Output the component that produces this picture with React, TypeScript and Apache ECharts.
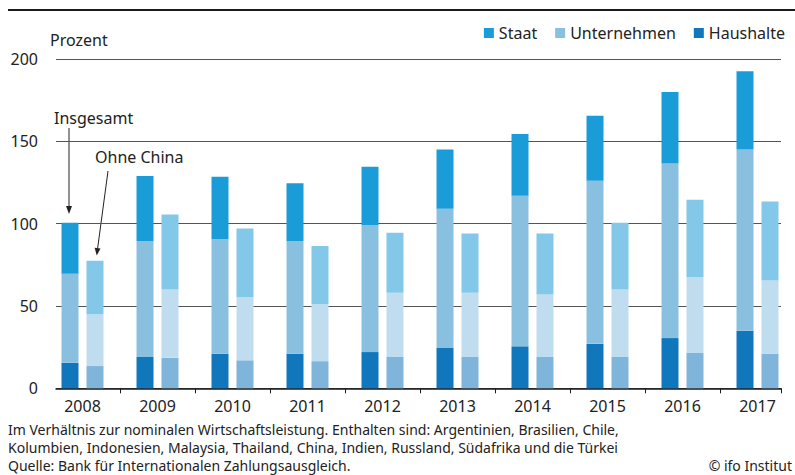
import React, { useEffect, useRef } from "react";
import * as echarts from "echarts";

// ---------- data ----------
const years = ["2008", "2009", "2010", "2011", "2012", "2013", "2014", "2015", "2016", "2017"];

// Insgesamt (all countries), Prozent des BIP
const haushalte = [15.5, 19, 21, 21, 22, 24.5, 25.5, 27, 30.5, 35];
const unternehmen = [54, 70.5, 69.5, 68.5, 77, 84.5, 91.5, 99, 106, 110];
const staat = [31, 39.5, 38, 35, 35.5, 36, 37.5, 39.5, 43.5, 47.5];

// Ohne China
const haushalteOhneChina = [13.5, 18.5, 17, 16.5, 19, 19, 19, 19, 21.5, 21];
const unternehmenOhneChina = [31.5, 41.5, 38.5, 34.5, 39, 39, 38, 41, 46, 44.5];
const staatOhneChina = [32.5, 45.5, 41.5, 35.5, 36.5, 36, 37, 40.5, 47, 48];

const yMin = 0;
const yMax = 200;
const yInterval = 50;

const legendNames = ["Staat", "Unternehmen", "Haushalte"];
const unitLabel = "Prozent";
const labelTotal = "Insgesamt";
const labelExChina = "Ohne China";
const footerLines = [
  "Im Verhältnis zur nominalen Wirtschaftsleistung. Enthalten sind: Argentinien, Brasilien, Chile,",
  "Kolumbien, Indonesien, Malaysia, Thailand, China, Indien, Russland, Südafrika und die Türkei",
  "Quelle: Bank für Internationalen Zahlungsausgleich.",
];
const copyright = "© ifo Institut";

// ---------- styles ----------
const W = 795;
const H = 475;
const FONT = '"Noto Sans", "Open Sans", sans-serif';
const TEXT = "#222222";
const colors = {
  staat: "#1a9cd8",
  unternehmen: "#8ac0df",
  haushalte: "#1077bd",
  staatO: "#83c8e9",
  unternehmenO: "#c0ddef",
  haushalteO: "#7fb4db",
};

// layout
const bandLeft = 45; // category band area
const bandRight = 0;
const plotLeft = 56; // visible axis / grid lines
const plotRight = 14;
const plotTop = 59;
const plotBottom = 86.7;

export default function App() {
  const ref = useRef<HTMLDivElement>(null);

  useEffect(() => {
    if (!ref.current) return;
    const chart = echarts.init(ref.current, undefined, { renderer: "svg" });

    const band = (W - bandLeft - bandRight) / years.length;
    const xMin = -0.5 + (plotLeft - bandLeft) / band;
    const xMax = years.length - 0.5 - (plotRight - bandRight) / band;
    const tickVals = years.slice(1).map((_, i) => i + 0.5).concat([xMax]);

    const barCommon = {
      type: "bar" as const,
      xAxisIndex: 0,
      yAxisIndex: 0,
      barWidth: 17,
      barGap: "47%",
      emphasis: { disabled: true },
    };

    const textStyle = (size: number) => ({ font: `${size}px ${FONT}`, fill: TEXT });

    chart.setOption({
      animation: false,
      backgroundColor: "#ffffff",
      textStyle: { fontFamily: FONT },
      grid: [
        { left: bandLeft, right: bandRight, top: plotTop, bottom: plotBottom },
        { left: plotLeft, right: plotRight, top: plotTop, bottom: plotBottom },
      ],
      legend: {
        data: legendNames,
        right: 10,
        top: 25,
        padding: 0,
        icon: "rect",
        itemWidth: 10,
        itemHeight: 10,
        itemGap: 18,
        selectedMode: false,
        textStyle: { fontSize: 16, color: TEXT, fontFamily: FONT },
      },
      xAxis: [
        {
          type: "category",
          gridIndex: 0,
          data: years,
          axisLine: { show: false },
          axisTick: { show: false },
          splitLine: { show: false },
          axisLabel: { fontSize: 16, color: TEXT, margin: 10, fontFamily: FONT },
        },
        {
          type: "value",
          gridIndex: 1,
          min: xMin,
          max: xMax,
          axisLine: { show: true, onZero: true, lineStyle: { color: "#1a1a1a", width: 1.5 } },
          axisTick: {
            show: true,
            length: 5,
            customValues: tickVals,
            lineStyle: { color: "#1a1a1a", width: 1 },
          },
          axisLabel: { show: false },
          splitLine: { show: false },
        },
      ],
      yAxis: [
        { type: "value", gridIndex: 0, min: yMin, max: yMax, show: false },
        {
          type: "value",
          gridIndex: 1,
          min: yMin,
          max: yMax,
          interval: yInterval,
          axisLine: { show: false },
          axisTick: { show: false },
          axisLabel: { fontSize: 16, color: TEXT, margin: 18, fontFamily: FONT },
          splitLine: { lineStyle: { color: "#555555", width: 1 } },
        },
      ],
      series: [
        { ...barCommon, name: "Haushalte", stack: "gesamt", data: haushalte, itemStyle: { color: colors.haushalte } },
        { ...barCommon, name: "Unternehmen", stack: "gesamt", data: unternehmen, itemStyle: { color: colors.unternehmen } },
        { ...barCommon, name: "Staat", stack: "gesamt", data: staat, itemStyle: { color: colors.staat } },
        { ...barCommon, name: "Haushalte (ohne China)", stack: "ohneChina", data: haushalteOhneChina, itemStyle: { color: colors.haushalteO } },
        { ...barCommon, name: "Unternehmen (ohne China)", stack: "ohneChina", data: unternehmenOhneChina, itemStyle: { color: colors.unternehmenO } },
        { ...barCommon, name: "Staat (ohne China)", stack: "ohneChina", data: staatOhneChina, itemStyle: { color: colors.staatO } },
      ],
      graphic: [
        { type: "line", shape: { x1: 8, y1: 10, x2: 795, y2: 10 }, style: { stroke: "#1a1a1a", lineWidth: 2 } },
        { type: "text", x: 50, y: 40, style: { text: unitLabel, ...textStyle(16), textVerticalAlign: "middle" } },
        { type: "text", x: 54, y: 118, style: { text: labelTotal, ...textStyle(16), textVerticalAlign: "middle" } },
        { type: "text", x: 95, y: 157, style: { text: labelExChina, ...textStyle(16), textVerticalAlign: "middle" } },
        // arrow to "Insgesamt" bar
        { type: "line", shape: { x1: 69, y1: 128, x2: 69, y2: 207 }, style: { stroke: "#222", lineWidth: 1 } },
        { type: "polygon", shape: { points: [[66, 206], [72, 206], [69, 214]] }, style: { fill: "#222" } },
        // arrow to "Ohne China" bar
        { type: "line", shape: { x1: 108, y1: 171, x2: 97.6, y2: 248.5 }, style: { stroke: "#222", lineWidth: 1 } },
        { type: "polygon", shape: { points: [[100.5, 248.5], [94.6, 247.7], [96.8, 255.5]] }, style: { fill: "#222" } },
        // footer
        ...footerLines.map((t, i) => ({
          type: "text",
          x: 8,
          y: 429 + i * 18,
          style: { text: t, ...textStyle(14), textVerticalAlign: "middle" },
        })),
        {
          type: "text",
          x: 792,
          y: 465,
          style: { text: copyright, ...textStyle(14), textAlign: "right", textVerticalAlign: "middle" },
        },
      ],
    });

    return () => chart.dispose();
  }, []);

  return (
    <div
      ref={ref}
      style={{ position: "fixed", left: 0, top: 0, width: W, height: H, background: "#fff" }}
    />
  );
}
